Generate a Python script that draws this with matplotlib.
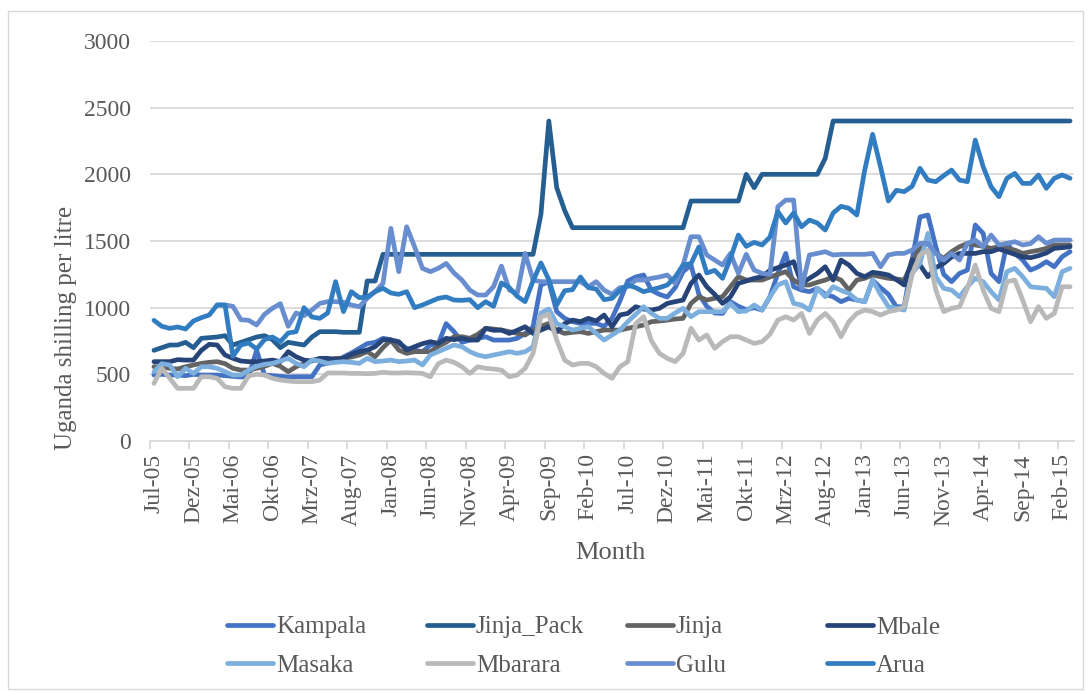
import numpy as np
import matplotlib
matplotlib.use("Agg")
import matplotlib.pyplot as plt
from matplotlib.lines import Line2D
from matplotlib.patches import Rectangle

nan = np.nan

tick_labels = ['Jul-05', 'Dez-05', 'Mai-06', 'Okt-06', 'Mrz-07', 'Aug-07', 'Jan-08', 'Jun-08',
               'Nov-08', 'Apr-09', 'Sep-09', 'Feb-10', 'Jul-10', 'Dez-10', 'Mai-11', 'Okt-11',
               'Mrz-12', 'Aug-12', 'Jan-13', 'Jun-13', 'Nov-13', 'Apr-14', 'Sep-14', 'Feb-15']
n_months = 117  # Jul-05 .. Mar-15

kampala = [495, 500, 495, 495, 490, 500, 495, 495, 495, 490,
           485, 480, 485, 680, 495, 490, 485, 480, 482, 482,
           482, 570, 585, 600, 630, 660, 695, 730, 740, 770,
           760, 732, 695, 682, 670, 720, 730, 880, 820, 740,
           757, 770, 782, 757, 757, 757, 770, 807, 857, 1170,
           1195, 970, 920, 895, 882, 882, 882, 860, 920, 1050,
           1200, 1230, 1245, 1130, 1100, 1080, 1150, 1270, 1320, 1100,
           1010, 960, 957, 1045, 1010, 985, 1000, 982, 1082, 1257,
           1407, 1157, 1132, 1120, 1145, 1100, 1082, 1045, 1070, 1057,
           1045, 1207, 1150, 1100, 1007, 1007, 1357, 1680, 1695, 1457,
           1250, 1195, 1257, 1282, 1620, 1557, 1257, 1195, 1482, 1407,
           1357, 1282, 1307, 1345, 1307, 1382, 1420]

jinja_pack = [680, 700, 720, 720, 740, 700, 770, 775, 780, 790,
              720, 740, 760, 780, 790, 760, 700, 740, 730, 720,
              780, 820, 820, 820, 815, 815, 815, 1200, 1200, 1400,
              1400, 1400, 1400, 1400, 1400, 1400, 1400, 1400, 1400, 1400,
              1400, 1400, 1400, 1400, 1400, 1400, 1400, 1400, 1400, 1700,
              2400, 1900, 1730, 1600, 1600, 1600, 1600, 1600, 1600, 1600,
              1600, 1600, 1600, 1600, 1600, 1600, 1600, 1600, 1800, 1800,
              1800, 1800, 1800, 1800, 1800, 2000, 1900, 2000, 2000, 2000,
              2000, 2000, 2000, 2000, 2000, 2120, 2400, 2400, 2400, 2400,
              2400, 2400, 2400, 2400, 2400, 2400, 2400, 2400, 2400, 2400,
              2400, 2400, 2400, 2400, 2400, 2400, 2400, 2400, 2400, 2400,
              2400, 2400, 2400, 2400, 2400, 2400, 2400]

jinja = [557, 557, 545, 540, 557, 570, 582, 590, 595, 580,
         545, 532, 532, 545, 560, 582, 560, 520, 557, 580,
         607, 607, 610, 620, 620, 630, 645, 670, 632, 700,
         757, 682, 657, 670, 670, 670, 710, 740, 782, 782,
         770, 800, 845, 840, 832, 820, 807, 795, 832, 860,
         882, 830, 807, 815, 820, 807, 820, 832, 832, 832,
         845, 857, 870, 895, 900, 907, 915, 920, 1032, 1082,
         1057, 1070, 1082, 1157, 1232, 1207, 1207, 1207, 1230, 1250,
         1270, 1207, 1170, 1170, 1190, 1207, 1232, 1207, 1132, 1207,
         1220, 1245, 1232, 1220, 1215, 1207, 1332, 1457, 1482, 1407,
         1370, 1420, 1457, 1482, 1470, 1460, 1445, 1457, 1445, 1432,
         1407, 1420, 1430, 1445, 1470, 1470, 1470]

mbale = [595, 595, 595, 610, 607, 607, 680, 725, 720, 645,
         620, 600, 595, 595, 600, 607, 595, 670, 632, 607,
         600, 620, 620, 610, 620, 650, 670, 682, 707, 760,
         757, 745, 682, 707, 730, 745, 732, 770, 760, 770,
         757, 757, 845, 830, 832, 807, 830, 857, 807, 832,
         857, 820, 880, 907, 895, 920, 900, 945, 857, 945,
         957, 1007, 990, 982, 995, 1032, 1045, 1057, 1182, 1245,
         1157, 1100, 1032, 1082, 1182, 1200, 1220, 1232, 1280, 1300,
         1320, 1345, 1182, 1220, 1257, 1307, 1207, 1357, 1320, 1257,
         1232, 1265, 1257, 1245, 1210, 1170, 1360, 1320, 1232, 1300,
         1332, 1380, 1407, 1407, 1407, 1420, 1420, 1440, 1420, 1400,
         1380, 1375, 1390, 1410, 1445, 1450, 1457]

masaka = [520, 580, 570, 482, 545, 507, 557, 557, 545, 520,
          495, 495, 532, 560, 575, 582, 600, 620, 582, 557,
          607, 600, 582, 590, 595, 590, 582, 620, 595, 600,
          607, 595, 600, 607, 570, 645, 670, 695, 720, 707,
          670, 645, 632, 645, 657, 670, 657, 670, 707, 960,
          990, 880, 857, 832, 845, 857, 807, 757, 795, 832,
          895, 950, 1007, 957, 920, 920, 960, 995, 932, 970,
          970, 970, 970, 1032, 970, 975, 1020, 982, 1082, 1170,
          1195, 1032, 1020, 982, 1145, 1082, 1157, 1130, 1107, 1057,
          1045, 1207, 1100, 1007, 995, 982, 1257, 1332, 1557, 1232,
          1145, 1132, 1082, 1157, 1220, 1195, 1120, 1057, 1270, 1295,
          1232, 1157, 1150, 1145, 1082, 1270, 1295]

mbarara = [432, 545, 470, 395, 395, 395, 482, 482, 470, 407,
           395, 395, 490, 500, 495, 470, 457, 450, 445, 445,
           445, 457, 510, 510, 510, 507, 507, 505, 507, 515,
           510, 510, 512, 510, 507, 482, 580, 607, 590, 557,
           507, 557, 545, 540, 532, 482, 495, 545, 657, 930,
           950, 757, 607, 570, 582, 582, 557, 507, 470, 557,
           595, 880, 932, 750, 657, 620, 595, 657, 845, 757,
           795, 695, 745, 782, 782, 757, 732, 745, 800, 907,
           932, 907, 957, 807, 907, 957, 895, 782, 895, 957,
           982, 970, 945, 970, 982, 1007, 1250, 1395, 1432, 1132,
           970, 995, 1007, 1145, 1320, 1132, 995, 970, 1195, 1207,
           1057, 895, 1007, 920, 957, 1157, 1157]

gulu = [nan, nan, nan, nan, nan, nan, nan, nan, 1020, 1020,
        1010, 910, 905, 870, 950, 995, 1030, 860, 960, 940,
        982, 1032, 1045, 1045, 1040, 1020, 1007, 1070, 1120, 1182,
        1595, 1270, 1607, 1457, 1295, 1270, 1295, 1332, 1260, 1207,
        1132, 1095, 1095, 1157, 1312, 1132, 1107, 1407, 1207, 1195,
        1195, 1195, 1195, 1195, 1195, 1157, 1195, 1132, 1100, 1150,
        1157, 1207, 1207, 1220, 1230, 1245, 1182, 1320, 1532, 1532,
        1395, 1357, 1320, 1407, 1257, 1400, 1282, 1257, 1250, 1757,
        1807, 1807, 1145, 1395, 1407, 1420, 1395, 1400, 1400, 1400,
        1400, 1407, 1307, 1395, 1407, 1407, 1432, 1482, 1482, 1407,
        1357, 1407, 1357, 1482, 1507, 1457, 1545, 1470, 1482, 1495,
        1470, 1480, 1532, 1482, 1507, 1507, 1507]

arua = [905, 860, 845, 855, 840, 900, 925, 945, 1020, 1020,
        635, 720, 735, 690, 760, 780, 745, 810, 820, 1000,
        930, 920, 960, 1195, 970, 1120, 1075, 1080, 1120, 1145,
        1110, 1100, 1120, 1000, 1020, 1045, 1070, 1080, 1057, 1055,
        1060, 1000, 1045, 1010, 1185, 1150, 1085, 1045, 1200, 1335,
        1210, 1020, 1127, 1135, 1230, 1150, 1140, 1060, 1070, 1130,
        1170, 1150, 1120, 1135, 1150, 1170, 1230, 1320, 1330, 1455,
        1260, 1280, 1220, 1370, 1545, 1460, 1490, 1470, 1530, 1720,
        1635, 1710, 1607, 1657, 1635, 1582, 1710, 1760, 1745, 1695,
        2032, 2300, 2057, 1800, 1880, 1870, 1910, 2045, 1957, 1945,
        1990, 2032, 1957, 1945, 2257, 2057, 1907, 1832, 1970, 2007,
        1932, 1932, 1995, 1895, 1970, 1995, 1970]

series_names = ['Kampala', 'Jinja_Pack', 'Jinja', 'Mbale', 'Masaka', 'Mbarara', 'Gulu', 'Arua']
series_values = [kampala, jinja_pack, jinja, mbale, masaka, mbarara, gulu, arua]
colors = ['#4472C4', '#255E91', '#636363', '#264478', '#7CAFDD', '#B9B9B9', '#698ED0', '#327DC2']

plt.rcParams['font.family'] = ['Liberation Serif', 'DejaVu Serif']
text_color = '#595959'
grid_color = '#D9D9D9'

W, H = 1090, 691
fig = plt.figure(figsize=(W / 100, H / 100), dpi=100)
fig.patch.set_facecolor('white')

# outer chart border
fig.patches.append(Rectangle((8 / W, 1 - 689 / H), (1083 - 8) / W, (689 - 11) / H,
                             transform=fig.transFigure, fill=False,
                             edgecolor=grid_color, linewidth=1.0))

ax = fig.add_axes([150 / W, 1 - 441 / H, (1074 - 150) / W, 400 / H])
x = np.arange(n_months)
lw = 3.4
for name, vals, c in zip(series_names, series_values, colors):
    ax.plot(x, vals, color=c, lw=lw, label=name, solid_joinstyle='round',
            solid_capstyle='round', zorder=3)

ax.set_xlim(-0.5, n_months - 0.5)
ax.set_ylim(0, 3000)
ax.set_yticks(np.arange(0, 3001, 500))
ax.yaxis.grid(True, color=grid_color, linewidth=1.3)
ax.set_axisbelow(True)
for s in ['top', 'right', 'left']:
    ax.spines[s].set_visible(False)
ax.spines['bottom'].set_color(grid_color)
ax.spines['bottom'].set_linewidth(1.3)

ax.tick_params(axis='y', length=0, pad=14, labelsize=17, labelcolor=text_color)
tick_pos = np.arange(0, n_months, 5)[:len(tick_labels)]
ax.set_xticks(tick_pos)
ax.set_xticklabels(tick_labels, rotation=90, fontsize=17, color=text_color)
ax.tick_params(axis='x', which='major', length=0, pad=9)
ax.set_xticks(np.arange(-0.5, n_months - 0.5, 5), minor=True)
ax.tick_params(axis='x', which='minor', length=6, width=1.3, color=grid_color)

fig.text(66 / W, 1 - 328 / H, 'Uganda shilling per litre', rotation=90,
         ha='center', va='center', fontsize=18, color=text_color)
fig.text(610 / W, 1 - 553 / H, 'Month', ha='center', va='center',
         fontsize=19, color=text_color)

# legend: 4 columns, 2 rows (Excel style fixed column positions)
handles = [Line2D([0], [0], color=c, lw=lw, solid_capstyle='round') for c in colors]
col_x = [227, 427, 627, 827]
for ci in range(4):
    hs = [handles[ci], handles[ci + 4]]
    ls = [series_names[ci], series_names[ci + 4]]
    fig.legend(hs, ls, loc='upper left', bbox_to_anchor=(col_x[ci] / W, 1 - 616 / H),
               frameon=False, fontsize=18, handlelength=1.85, handletextpad=0.1,
               borderpad=0, borderaxespad=0, labelspacing=0.62, labelcolor=text_color)

fig.savefig('out.png', dpi=100, facecolor='white')
